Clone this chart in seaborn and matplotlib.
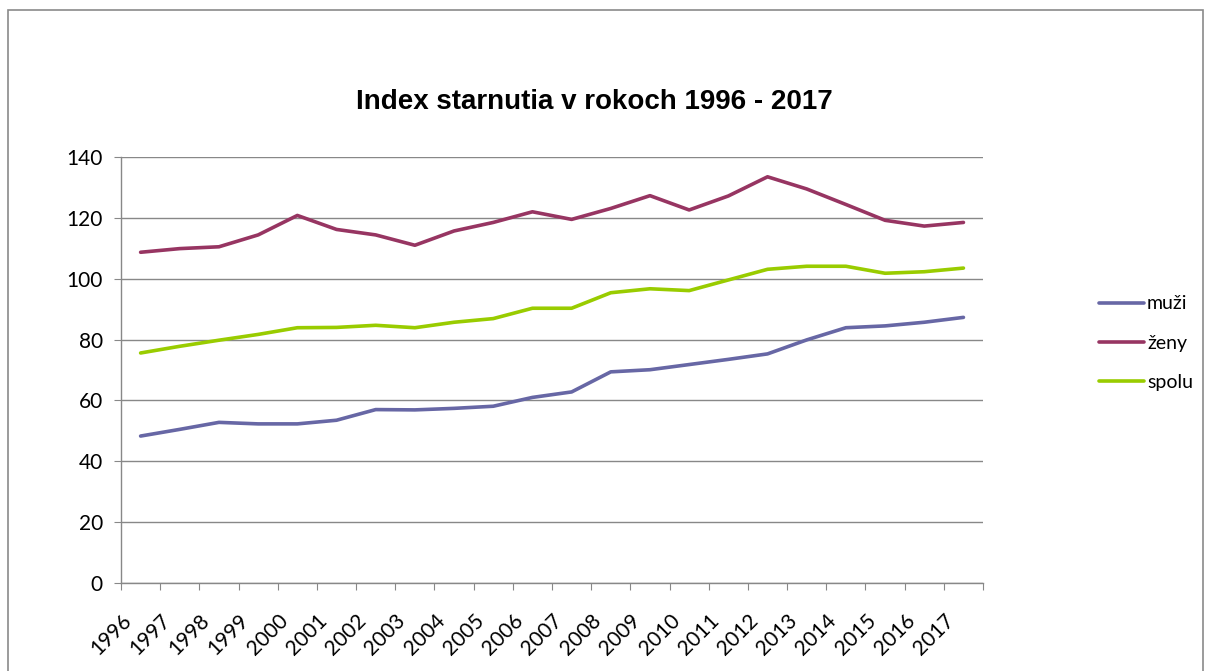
# coding=utf-8
# filename: plot.py

import matplotlib.pyplot as plt
from matplotlib.patches import Rectangle
import numpy as np
import pandas as pd
import seaborn as sns


years = list(range(1996, 2018))
year_labels = [str(y) for y in years]

muzi = [48.3, 50.5, 52.8, 52.3, 52.3, 53.5, 57.0, 56.9, 57.4, 58.1, 61.0,
        62.8, 69.4, 70.1, 71.8, 73.5, 75.3, 79.9, 83.9, 84.5, 85.7, 87.3]
zeny = [108.7, 109.9, 110.5, 114.4, 120.8, 116.2, 114.4, 111.0, 115.7, 118.5, 122.0,
        119.5, 123.1, 127.3, 122.6, 127.2, 133.5, 129.5, 124.4, 119.2, 117.3, 118.5]
spolu = [75.6, 77.8, 79.8, 81.7, 83.9, 84.0, 84.7, 83.9, 85.7, 86.9, 90.3,
         90.3, 95.4, 96.7, 96.1, 99.6, 103.1, 104.1, 104.1, 101.8, 102.3, 103.5]

series_names = ['muži', 'ženy', 'spolu']
colors = ['#6767A5', '#973562', '#99CC00']

font_main = ['Lato', 'DejaVu Sans']
grid_color = '#888888'
font_size = 15


def main():

    df = pd.DataFrame({
        'pos': list(range(len(years))) * 3,
        'value': muzi + zeny + spolu,
        'series': [n for n in series_names for _ in years],
    })

    sns.set_style('white')
    plt.rcParams['font.family'] = font_main
    plt.rcParams['text.color'] = 'black'
    plt.rcParams['xtick.color'] = 'black'
    plt.rcParams['ytick.color'] = 'black'

    fig = plt.figure(figsize=(12.09, 6.71), dpi=100)
    ax = fig.add_axes([0.1001, 0.1311, 0.7130, 0.6349])

    sns.lineplot(data=df, x='pos', y='value', hue='series',
                 hue_order=series_names, palette=colors,
                 linewidth=2.6, ax=ax)

    ax.set_xlim(-0.5, len(years) - 0.5)
    ax.set_ylim(0, 140)
    ax.set_yticks(np.arange(0, 141, 20))
    ax.set_xticks(np.arange(len(years) + 1) - 0.5)
    ax.set_xticklabels(year_labels + [''], rotation=45, ha='right',
                       rotation_mode='anchor', fontsize=font_size)
    ax.tick_params(axis='y', labelsize=font_size, length=5, color=grid_color,
                   labelcolor='black', direction='out', pad=8, left=True)
    ax.tick_params(axis='x', length=5, color=grid_color, labelcolor='black',
                   direction='out', pad=15, bottom=True)

    ax.grid(axis='y', color=grid_color, linewidth=1)
    ax.set_axisbelow(True)
    for side in ['top', 'right']:
        ax.spines[side].set_visible(False)
    for side in ['left', 'bottom']:
        ax.spines[side].set_color(grid_color)
        ax.spines[side].set_linewidth(1)

    ax.set_xlabel('')
    ax.set_ylabel('')

    leg = ax.legend(loc='center left', bbox_to_anchor=(1.135, 0.563), frameon=False,
                    fontsize=14, handlelength=2.3, handletextpad=0.15,
                    labelspacing=1.15, borderpad=0, borderaxespad=0)
    for t in leg.get_texts():
        t.set_color('black')

    fig.text(0.492, 0.848, 'Index starnutia v rokoch 1996 - 2017',
             ha='center', va='center', fontsize=20, fontweight='bold',
             color='black', family=['Liberation Sans', 'DejaVu Sans'])

    # outer chart frame like the spreadsheet chart area
    fig.patches.append(Rectangle((8 / 1209, -0.05), 1195 / 1209, 1.05 - 10 / 671,
                                 transform=fig.transFigure, fill=False,
                                 edgecolor='#8a8a8a', linewidth=1.2))

    plt.savefig('out.png', dpi=100)


if __name__ == "__main__":
    main()
